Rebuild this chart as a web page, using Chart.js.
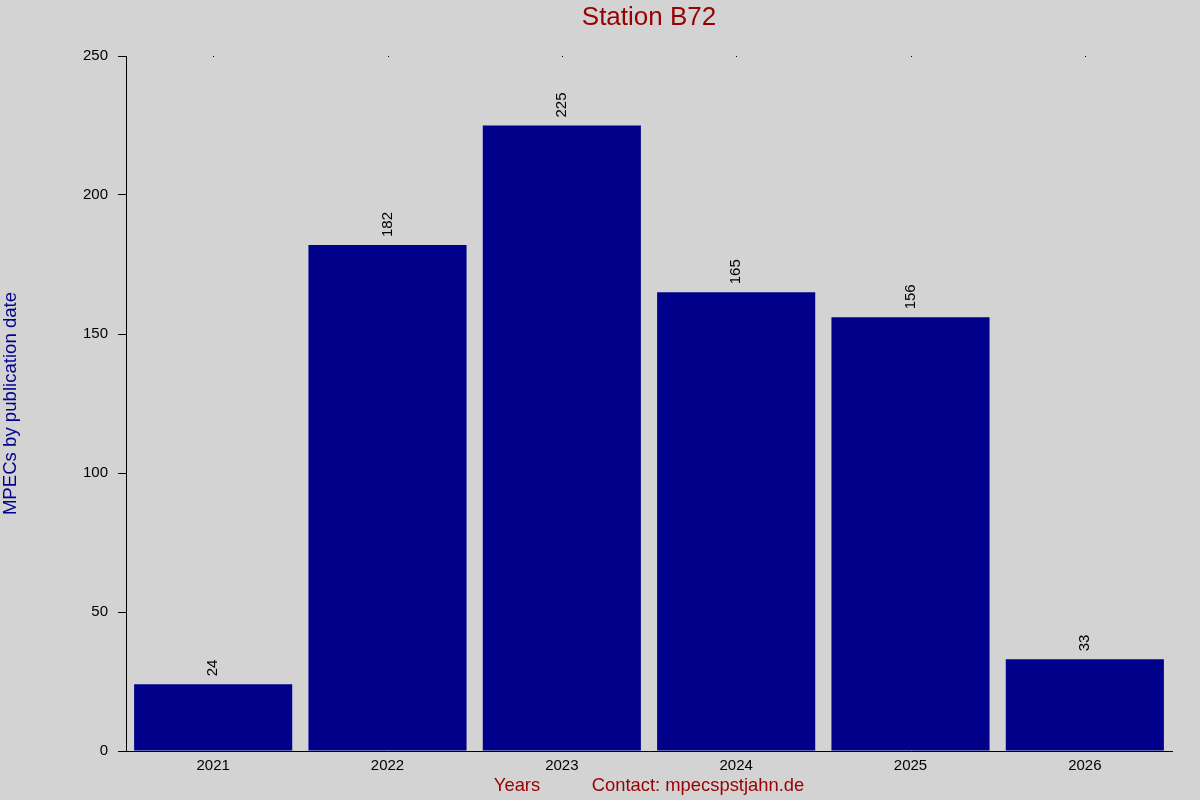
<!DOCTYPE html>
<html lang="en">
  <head>
    <meta charset="UTF-8" />
    <title>Station B72</title>
    <style>
      body {
        margin: 0;
        padding: 0;
        background: #d3d3d3;
        overflow: hidden;
      }
      canvas {
        display: block;
      }
    </style>
  </head>
  <body>
    <canvas id="mpecChart" width="1200" height="800"></canvas>

    <script src="https://cdn.jsdelivr.net/npm/chart.js"></script>
    <script>
      const years = ["2021", "2022", "2023", "2024", "2025", "2026"];
      const mpecCounts = [24, 182, 225, 165, 156, 33];
      const yTicks = [0, 50, 100, 150, 200, 250];

      const chartTitle = "Station B72";
      const yTitle = "MPECs by publication date";
      const xTitle = "Years";
      const contactText = "Contact: mpecspstjahn.de";

      const font = "'Liberation Sans', Arial, sans-serif";

      // titles, value labels and little top tick dots
      const decorations = {
        id: "decorations",
        afterDatasetsDraw(chart) {
          const ctx = chart.ctx;
          const area = chart.chartArea;
          const meta = chart.getDatasetMeta(0);
          const xScale = chart.scales.x;

          ctx.save();
          ctx.fillStyle = "#000";
          ctx.font = "15px " + font;
          ctx.textAlign = "left";
          ctx.textBaseline = "middle";
          meta.data.forEach((bar, i) => {
            ctx.save();
            ctx.translate(bar.x, bar.y - 8);
            ctx.rotate(-Math.PI / 2);
            ctx.fillText(String(mpecCounts[i]), 0, 0);
            ctx.restore();
          });

          // tiny tick marks on the top edge
          years.forEach((y, i) => {
            const px = Math.round(xScale.getPixelForValue(i));
            ctx.fillRect(px, area.top, 1, 1);
          });

          // main title
          ctx.fillStyle = "#990000";
          ctx.textAlign = "center";
          ctx.font = "26px " + font;
          ctx.fillText(chartTitle, (area.left + area.right) / 2, 18);

          // x title line
          ctx.font = "18.4px " + font;
          ctx.fillText(xTitle, 517, 786);
          ctx.fillText(contactText, 698, 786);

          // y title
          ctx.fillStyle = "#00008b";
          ctx.font = "18.6px " + font;
          ctx.translate(11, (area.top + area.bottom) / 2);
          ctx.rotate(-Math.PI / 2);
          ctx.fillText(yTitle, 0, 0);
          ctx.restore();
        },
      };

      new Chart(document.getElementById("mpecChart"), {
        type: "bar",
        data: {
          labels: years,
          datasets: [
            {
              data: mpecCounts,
              backgroundColor: "#00008b",
              borderWidth: 0,
              barPercentage: 0.907,
              categoryPercentage: 1.0,
            },
          ],
        },
        options: {
          responsive: false,
          animation: false,
          devicePixelRatio: 1,
          layout: {
            padding: { left: 0, right: 28, top: 56, bottom: 19 },
          },
          plugins: {
            legend: { display: false },
            tooltip: { enabled: false },
            title: { display: false },
          },
          scales: {
            x: {
              afterFit(scale) {
                scale.height = 30;
              },
              grid: { display: false, drawTicks: false },
              border: { display: true, color: "#000", width: 1 },
              ticks: {
                color: "#000",
                font: { family: font, size: 15 },
                padding: 6,
                maxRotation: 0,
              },
            },
            y: {
              min: 0,
              max: 250,
              afterFit(scale) {
                scale.width = 126;
              },
              afterBuildTicks(scale) {
                scale.ticks = yTicks.map((v) => ({ value: v }));
              },
              grid: {
                display: true,
                drawOnChartArea: false,
                drawTicks: true,
                tickLength: 8,
                color: "#000",
              },
              border: { display: true, color: "#000", width: 1 },
              ticks: {
                color: "#000",
                font: { family: font, size: 15 },
                padding: 10,
              },
            },
          },
        },
        plugins: [decorations],
      });
    </script>
  </body>
</html>
